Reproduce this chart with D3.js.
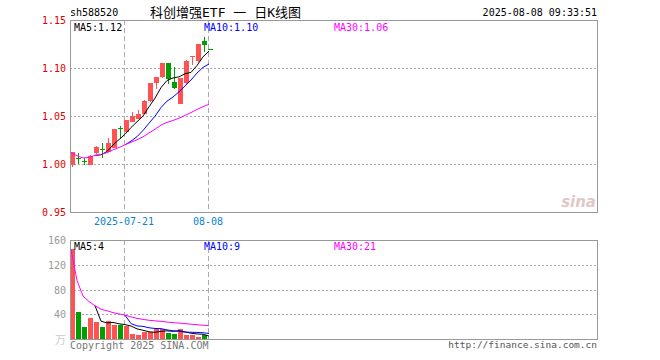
<!DOCTYPE html>
<html>
<head>
<meta charset="utf-8">
<script src="https://cdn.jsdelivr.net/npm/d3@7"></script>
<style>
  body { margin: 0; background: #fff; }
  text { font-family: "DejaVu Sans Mono", "Liberation Mono", monospace; font-size: 10px; }
</style>
</head>
<body>
<div id="chart"></div>
<script>
// daily K-line data, 588520
const dates = ["2025-07-08","2025-07-09","2025-07-10","2025-07-11","2025-07-14","2025-07-15",
  "2025-07-16","2025-07-17","2025-07-18","2025-07-21","2025-07-22","2025-07-23","2025-07-24",
  "2025-07-25","2025-07-28","2025-07-29","2025-07-30","2025-07-31","2025-08-01","2025-08-04",
  "2025-08-05","2025-08-06","2025-08-07","2025-08-08"];
const opens  = [0.999,1.006,1.003,0.999,1.011,1.016,1.012,1.017,1.037,1.033,1.044,1.047,1.052,
  1.066,1.084,1.091,1.105,1.085,1.062,1.084,1.112,1.107,1.128,1.120];
const highs  = [1.013,1.011,1.006,1.009,1.019,1.022,1.027,1.036,1.040,1.046,1.054,1.056,1.067,
  1.084,1.091,1.105,1.105,1.101,1.090,1.108,1.112,1.125,1.132,1.120];
const lows   = [0.997,1.000,0.999,0.999,1.010,1.006,1.012,1.017,1.026,1.033,1.044,1.047,1.052,
  1.065,1.078,1.090,1.083,1.078,1.062,1.083,1.103,1.106,1.117,1.120];
const closes = [1.012,1.005,1.002,1.008,1.018,1.015,1.022,1.036,1.036,1.046,1.050,1.052,1.066,
  1.084,1.091,1.105,1.089,1.079,1.090,1.107,1.112,1.125,1.124,1.120];
// volume in 万
const volumes = [145,44,19,34,27.5,19.4,29.7,23.2,23,21,8,6.5,12,11,16.5,16.5,9.7,8.6,15.5,7,6,3.8,6,0.8];

const priceTicks = [0.95, 1.00, 1.05, 1.10, 1.15];
const priceGrid = [1.00, 1.05, 1.10];
const volTicks = [40, 80, 120, 160];
const volGrid = [40, 80, 120];
const markDates = ["2025-07-21", "2025-08-08"];
const markLabels = ["2025-07-21", "08-08"];

// layout
const width = 660, height = 360;
const left = 70, right = 597;
const pTop = 20, pBot = 212;
const vTop = 240, vBot = 339;

const red = "#ff5252", green = "#009f00";

const svg = d3.select("#chart").append("svg")
  .attr("width", width).attr("height", height);

const x = d3.scaleBand().domain(dates).range([left, left + 143]).paddingInner(1 / 6).paddingOuter(0);
const yP = d3.scaleLinear().domain([0.95, 1.15]).range([pBot, pTop]);
const yV = d3.scaleLinear().domain([0, 160]).range([vBot, vTop]);

// moving averages, partial window allowed for MA30
function ma(arr, n, partial) {
  return arr.map((_, i) => {
    if (i + 1 < n && !partial) return null;
    const s = arr.slice(Math.max(0, i - n + 1), i + 1);
    return d3.mean(s);
  });
}

const isUp = i => closes[i] > opens[i] || (closes[i] === opens[i] && (i === 0 || closes[i] >= closes[i - 1]));

// grid lines
function hGrid(vals, scale) {
  svg.append("g").selectAll("line").data(vals).enter().append("line")
    .attr("x1", left).attr("x2", right)
    .attr("y1", d => Math.round(scale(d)) + 0.5).attr("y2", d => Math.round(scale(d)) + 0.5)
    .attr("stroke", "#aaa").attr("stroke-dasharray", "2,2");
}
hGrid(priceGrid, yP);
hGrid(volGrid, yV);

// dashed date separators
[[pTop, pBot], [vTop, vBot]].forEach(([t, b]) => {
  svg.append("g").selectAll("line").data(markDates).enter().append("line")
    .attr("x1", d => x(d) + 0.5).attr("x2", d => x(d) + 0.5)
    .attr("y1", t).attr("y2", b)
    .attr("stroke", "#aaa").attr("stroke-dasharray", "5,3");
});

// candles
const idx = d3.range(dates.length);
const candles = svg.append("g").selectAll("g").data(idx).enter().append("g");
candles.append("rect")
  .attr("x", i => x(dates[i]) + 2).attr("width", 1)
  .attr("y", i => Math.round(yP(highs[i])))
  .attr("height", i => Math.max(1, Math.round(yP(lows[i])) - Math.round(yP(highs[i]))))
  .attr("fill", i => isUp(i) ? red : green);
candles.append("rect")
  .attr("x", i => x(dates[i])).attr("width", x.bandwidth())
  .attr("y", i => Math.round(yP(Math.max(opens[i], closes[i]))))
  .attr("height", i => Math.max(1, Math.round(yP(Math.min(opens[i], closes[i]))) - Math.round(yP(Math.max(opens[i], closes[i])))))
  .attr("fill", i => isUp(i) ? red : green);

// volume bars
svg.append("g").selectAll("rect").data(idx).enter().append("rect")
  .attr("x", i => x(dates[i])).attr("width", x.bandwidth())
  .attr("y", i => Math.round(yV(volumes[i])))
  .attr("height", i => vBot - Math.round(yV(volumes[i])))
  .attr("fill", i => isUp(i) ? red : green);

// MA lines
const maSet = [[5, "#000", false], [10, "#0000ff", false], [30, "#ff00ff", true]];
function drawMA(arr, scale) {
  maSet.forEach(([n, c, partial]) => {
    const vals = ma(arr, n, partial);
    const line = d3.line()
      .defined(d => d != null)
      .x((d, i) => x(dates[i]) + 1)
      .y(d => scale(d));
    svg.append("path").datum(vals)
      .attr("d", line).attr("fill", "none")
      .attr("stroke", c).attr("stroke-width", 1);
  });
}
drawMA(closes, yP);
drawMA(volumes, yV);

// frames
svg.append("rect").attr("x", left + 0.5).attr("y", pTop + 0.5)
  .attr("width", right - left).attr("height", pBot - pTop)
  .attr("fill", "none").attr("stroke", "#999");
svg.append("rect").attr("x", left + 0.5).attr("y", vTop + 0.5)
  .attr("width", right - left).attr("height", vBot - vTop)
  .attr("fill", "none").attr("stroke", "#999");

// axis labels
svg.append("g").selectAll("text").data(priceTicks).enter().append("text")
  .attr("x", 66).attr("y", d => yP(d) + 4)
  .attr("text-anchor", "end").attr("fill", "#e00000")
  .text(d => d.toFixed(2));
svg.append("g").selectAll("text").data(volTicks).enter().append("text")
  .attr("x", 66).attr("y", d => yV(d) + 4)
  .attr("text-anchor", "end").attr("fill", "#999")
  .text(d => d);
svg.append("text").attr("x", 66).attr("y", vBot + 5)
  .attr("text-anchor", "end").attr("fill", "#ccc")
  .style("font-family", "'Noto Sans CJK SC'").style("font-size", "11px")
  .text("万");

svg.append("g").selectAll("text").data(markDates).enter().append("text")
  .attr("x", d => x(d)).attr("y", 225)
  .attr("text-anchor", "middle").attr("fill", "#0a84d8")
  .text((d, i) => markLabels[i]);

// header
svg.append("text").attr("x", left).attr("y", 16).attr("fill", "#000").text("sh588520");
svg.append("text").attr("x", 150).attr("y", 17).attr("fill", "#000")
  .style("font-family", "'DejaVu Sans Mono', 'Noto Sans CJK SC'").style("font-size", "13px")
  .style("white-space", "pre")
  .text("科创增强ETF 一 日K线图");
svg.append("text").attr("x", right).attr("y", 16).attr("text-anchor", "end")
  .attr("fill", "#000").text("2025-08-08 09:33:51");

// MA legends
const last = dates.length - 1;
const pLegend = maSet.map(([n, c, p]) => ({ t: "MA" + n + ":" + ma(closes, n, p)[last].toFixed(2), c }));
const vLegend = maSet.map(([n, c, p]) => ({ t: "MA" + n + ":" + Math.floor(ma(volumes, n, p)[last]), c }));
const legendX = [74, 204, 334];
svg.append("g").selectAll("text").data(pLegend).enter().append("text")
  .attr("x", (d, i) => legendX[i]).attr("y", 31).attr("fill", d => d.c).text(d => d.t);
svg.append("g").selectAll("text").data(vLegend).enter().append("text")
  .attr("x", (d, i) => legendX[i]).attr("y", 250).attr("fill", d => d.c).text(d => d.t);

// footer
svg.append("text").attr("x", left).attr("y", 349).attr("fill", "#777").text("Copyright 2025 SINA.COM");
svg.append("text").attr("x", right).attr("y", 348).attr("text-anchor", "end")
  .attr("fill", "#555").style("font-size", "9.5px").text("http://finance.sina.com.cn");

// watermark
svg.append("text").attr("x", 596).attr("y", 207).attr("text-anchor", "end")
  .attr("fill", "#e0c8c8").style("font-family", "'DejaVu Sans'")
  .style("font-size", "15px").style("font-style", "italic").style("font-weight", "bold")
  .text("sina");
</script>
</body>
</html>
